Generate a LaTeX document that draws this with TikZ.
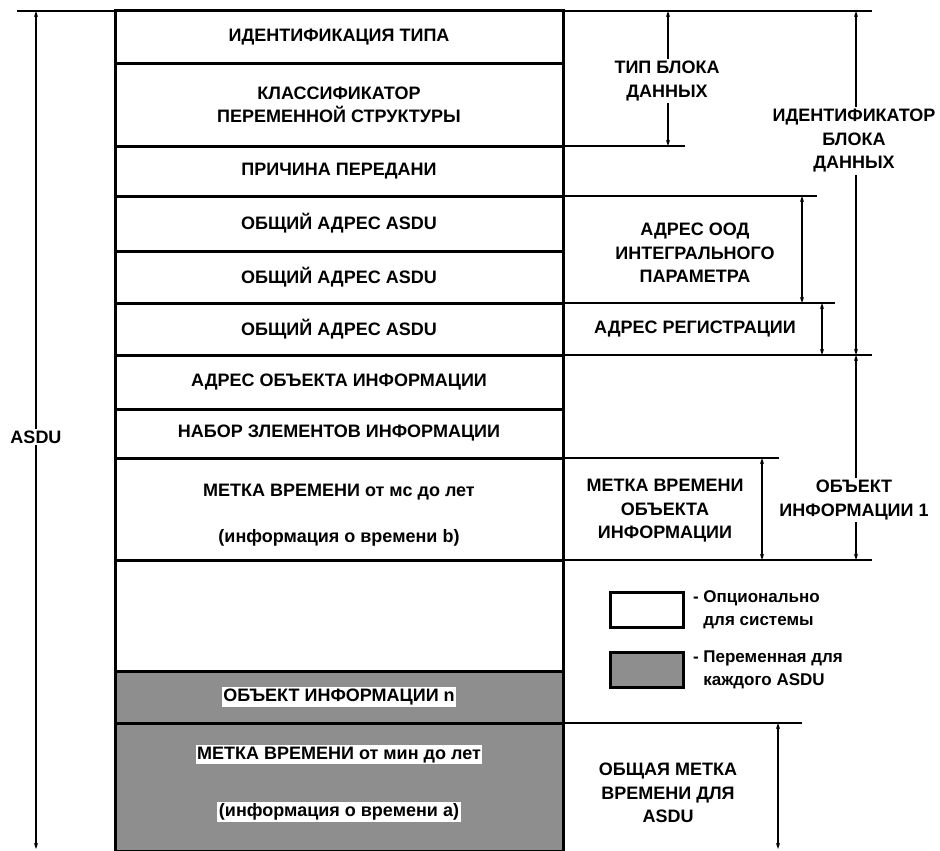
\documentclass[tikz,border=0pt]{standalone}
\usepackage{fontspec}
\setmainfont{Liberation Sans}
\usetikzlibrary{positioning,arrows.meta}

\definecolor{boxgray}{HTML}{8E8E8E}
\newcommand{\txt}{\bfseries\fontsize{18}{23.5}\selectfont}
\newcommand{\legtxt}{\bfseries\fontsize{17}{23}\selectfont}
\setlength{\fboxsep}{1.5pt}

\tikzset{
  row/.style={draw, line width=3pt, minimum width=448pt, outer sep=0pt,
    inner sep=0pt, align=center, font=\txt},
  grayrow/.style={row, fill=boxgray},
  ext/.style={line width=1.8pt},
  dim/.style={line width=2pt, {Stealth[length=6pt,width=4pt]}-{Stealth[length=6pt,width=4pt]}},
  lbl/.style={fill=white, inner sep=2pt, align=center, font=\txt},
  legbox/.style={draw, line width=3pt, minimum width=73pt, minimum height=35pt, inner sep=0pt}
}

\begin{document}
\begin{tikzpicture}[x=1pt,y=-1pt]
    \useasboundingbox (0,0) rectangle (940,851);

    % rows of the ASDU
    \node[row, minimum height=53pt, anchor=north] (idtype) at (339,11) {ИДЕНТИФИКАЦИЯ ТИПА};
    \node[row, minimum height=82pt, below=0pt of idtype] (varcls) {КЛАССИФИКАТОР\\ПЕРЕМЕННОЙ СТРУКТУРЫ};
    \node[row, minimum height=50pt, below=0pt of varcls] (cause) {ПРИЧИНА ПЕРЕДАНИ};
    \node[row, minimum height=55pt, below=0pt of cause] (addra) {ОБЩИЙ АДРЕС ASDU};
    \node[row, minimum height=52pt, below=0pt of addra] (addrb) {ОБЩИЙ АДРЕС ASDU};
    \node[row, minimum height=52pt, below=0pt of addrb] (addrc) {ОБЩИЙ АДРЕС ASDU};
    \node[row, minimum height=54pt, below=0pt of addrc] (objaddr) {АДРЕС ОБЪЕКТА ИНФОРМАЦИИ};
    \node[row, minimum height=49pt, below=0pt of objaddr] (elems) {НАБОР ЗЛЕМЕНТОВ ИНФОРМАЦИИ};
    \node[row, minimum height=102pt, below=0pt of elems] (tagb) {\rule{0pt}{25pt}МЕТКА ВРЕМЕНИ от мс до лет\\[22pt](информация о времени b)};
    \node[row, minimum height=111pt, below=0pt of tagb] (blank) {};
    \node[grayrow, minimum height=52pt, below=0pt of blank] (objn) {\colorbox{white}{ОБЪЕКТ ИНФОРМАЦИИ n}};
    \node[grayrow, minimum height=128pt, below=0pt of objn] (taga) {\colorbox{white}{МЕТКА ВРЕМЕНИ от мин до лет}\\[34pt]\colorbox{white}{(информация о времени а)}\rule[-12pt]{0pt}{12pt}};

    % extension lines
    \coordinate (topl) at (17,11);
    \coordinate (topr) at (872,11);
    \draw[ext] (topl) -- (topr);
    \draw[ext] (varcls.south east) -- ++(122,0) coordinate (e1);
    \draw[ext] (cause.south east) -- ++(254,0) coordinate (e2);
    \draw[ext] (addrb.south east) -- ++(272,0) coordinate (e3);
    \draw[ext] (addrc.south east) -- ++(309,0) coordinate (e4);
    \draw[ext] (elems.south east) -- ++(216,0) coordinate (e5);
    \draw[ext] (tagb.south east) -- ++(309,0) coordinate (e6);
    \draw[ext] (objn.south east) -- ++(239,0) coordinate (e7);

    % dimension lines
    \coordinate (asdut) at (36,11);
    \coordinate (asdub) at (36,849);
    \draw[dim] (asdut) -- (asdub);
    \node[lbl] (asdu) at (36,437) {ASDU};

    \draw[dim] (668,11) coordinate (tbt) -- (668,146) coordinate (tbb);
    \node[lbl] (blocktype) at (667,81) {ТИП БЛОКА\\ДАННЫХ};

    \draw[dim] (856,11) coordinate (idt) -- (856,355) coordinate (idb);
    \node[lbl] (blockid) at (854,141) {ИДЕНТИФИКАТОР\\БЛОКА\\ДАННЫХ};

    \draw[dim] (802,196) coordinate (oodt) -- (802,303) coordinate (oodb);
    \node[lbl] (oodaddr) at (695,253) {АДРЕС ООД\\ИНТЕГРАЛЬНОГО\\ПАРАМЕТРА};

    \draw[dim] (822,303) coordinate (regt) -- (822,355) coordinate (regb);
    \node[lbl] (regaddr) at (695,329) {АДРЕС РЕГИСТРАЦИИ};

    \draw[dim] (856,355) coordinate (objt) -- (856,560) coordinate (objb);
    \node[lbl] (obj1) at (854,500) {ОБЪЕКТ\\ИНФОРМАЦИИ 1};

    \draw[dim] (762,458) coordinate (tgt) -- (762,560) coordinate (tgb);
    \node[lbl] (objtag) at (665,511) {МЕТКА ВРЕМЕНИ\\ОБЪЕКТА\\ИНФОРМАЦИИ};

    \draw[dim] (778,723) coordinate (comt) -- (778,849) coordinate (comb);
    \node[lbl] (comtag) at (668,793) {ОБЩАЯ МЕТКА\\ВРЕМЕНИ ДЛЯ\\ASDU};

    % legend
    \node[legbox, fill=white] (optbox) at (646.5,609.5) {};
    \node[legbox, fill=boxgray] (varbox) at (646.5,670) {};
    \node[anchor=west, align=left, font=\legtxt, right=5pt of optbox] (opttext) {- Опционально\\\hphantom{- }для системы};
    \node[anchor=west, align=left, font=\legtxt, right=5pt of varbox] (vartext) {- Переменная для\\\hphantom{- }каждого ASDU};
\end{tikzpicture}
\end{document}
